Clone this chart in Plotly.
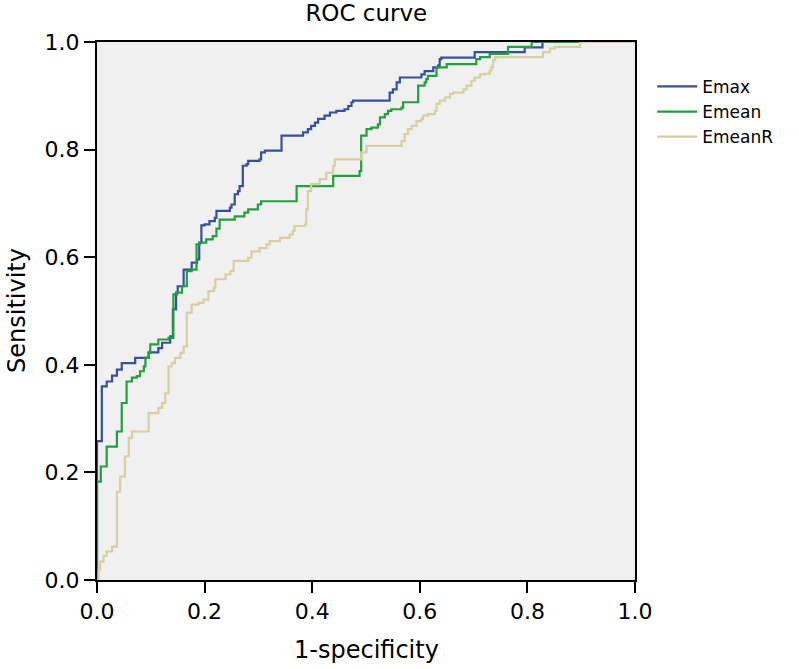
import plotly.graph_objects as go

# ---- data ----
emax_x = [0.000, 0.000, 0.009, 0.018, 0.028, 0.037, 0.046, 0.071, 0.096, 0.114,
          0.121, 0.136, 0.141, 0.147, 0.150, 0.161, 0.176, 0.186, 0.190, 0.194,
          0.200, 0.209, 0.219, 0.222, 0.247, 0.250, 0.256, 0.262, 0.265, 0.271,
          0.278, 0.281, 0.302, 0.305, 0.312, 0.343, 0.383, 0.392, 0.398, 0.405,
          0.411, 0.423, 0.433, 0.445, 0.460, 0.467, 0.473, 0.476, 0.544, 0.550,
          0.557, 0.563, 0.603, 0.609, 0.625, 0.634, 0.637, 0.640, 0.702, 0.795,
          0.828, 1.000]
emax_y = [0.000, 0.258, 0.360, 0.369, 0.380, 0.391, 0.403, 0.413, 0.423, 0.431,
          0.441, 0.453, 0.503, 0.534, 0.546, 0.577, 0.590, 0.596, 0.627, 0.659,
          0.661, 0.667, 0.673, 0.686, 0.692, 0.698, 0.717, 0.723, 0.732, 0.770,
          0.773, 0.779, 0.782, 0.795, 0.798, 0.826, 0.832, 0.838, 0.844, 0.850,
          0.857, 0.863, 0.869, 0.872, 0.875, 0.881, 0.888, 0.891, 0.906, 0.912,
          0.925, 0.934, 0.940, 0.946, 0.953, 0.956, 0.968, 0.971, 0.981, 0.990,
          1.000, 1.000]

emean_x = [0.000, 0.000, 0.007, 0.018, 0.037, 0.046, 0.055, 0.065, 0.074, 0.080,
           0.087, 0.090, 0.096, 0.099, 0.114, 0.133, 0.142, 0.149, 0.158, 0.167,
           0.176, 0.185, 0.191, 0.203, 0.215, 0.222, 0.228, 0.256, 0.274, 0.281,
           0.299, 0.305, 0.371, 0.439, 0.488, 0.491, 0.501, 0.510, 0.522, 0.526,
           0.535, 0.541, 0.547, 0.566, 0.569, 0.597, 0.609, 0.612, 0.615, 0.631,
           0.650, 0.705, 0.712, 0.730, 0.764, 0.808, 1.000]
emean_y = [0.000, 0.183, 0.211, 0.248, 0.276, 0.329, 0.369, 0.376, 0.379, 0.388,
           0.397, 0.413, 0.422, 0.438, 0.447, 0.450, 0.531, 0.534, 0.546, 0.574,
           0.577, 0.624, 0.627, 0.633, 0.639, 0.653, 0.670, 0.676, 0.683, 0.689,
           0.698, 0.704, 0.732, 0.751, 0.760, 0.826, 0.838, 0.841, 0.847, 0.860,
           0.866, 0.872, 0.875, 0.878, 0.888, 0.919, 0.925, 0.931, 0.937, 0.953,
           0.959, 0.968, 0.972, 0.978, 0.991, 1.000, 1.000]

emeanr_x = [0.000, 0.003, 0.006, 0.012, 0.018, 0.028, 0.037, 0.043, 0.052, 0.059,
            0.065, 0.096, 0.114, 0.121, 0.127, 0.133, 0.139, 0.145, 0.155, 0.161,
            0.167, 0.176, 0.189, 0.198, 0.207, 0.217, 0.220, 0.239, 0.248, 0.254,
            0.281, 0.287, 0.302, 0.315, 0.321, 0.340, 0.358, 0.364, 0.367, 0.386,
            0.389, 0.392, 0.398, 0.414, 0.426, 0.439, 0.442, 0.491, 0.501, 0.566,
            0.572, 0.578, 0.585, 0.594, 0.603, 0.606, 0.615, 0.628, 0.631, 0.637,
            0.647, 0.656, 0.662, 0.681, 0.687, 0.696, 0.702, 0.712, 0.721, 0.730,
            0.733, 0.736, 0.740, 0.829, 0.842, 0.851, 0.898, 1.000]
emeanr_y = [0.000, 0.019, 0.034, 0.045, 0.053, 0.062, 0.164, 0.192, 0.230, 0.264,
            0.276, 0.310, 0.320, 0.329, 0.347, 0.397, 0.403, 0.413, 0.422, 0.434,
            0.497, 0.512, 0.515, 0.521, 0.537, 0.543, 0.559, 0.568, 0.574, 0.593,
            0.599, 0.611, 0.617, 0.624, 0.630, 0.636, 0.642, 0.649, 0.658, 0.661,
            0.689, 0.723, 0.736, 0.745, 0.757, 0.770, 0.782, 0.795, 0.807, 0.816,
            0.829, 0.838, 0.844, 0.853, 0.857, 0.863, 0.866, 0.872, 0.885, 0.891,
            0.897, 0.903, 0.906, 0.912, 0.919, 0.928, 0.934, 0.940, 0.941, 0.947,
            0.953, 0.966, 0.972, 0.981, 0.988, 0.991, 1.000, 1.000]

tick_vals = [0.0, 0.2, 0.4, 0.6, 0.8, 1.0]
tick_text = ["0.0", "0.2", "0.4", "0.6", "0.8", "1.0"]

series = [
    ("Emax", emax_x, emax_y, "#3450A2"),
    ("Emean", emean_x, emean_y, "#22A03C"),
    ("EmeanR", emeanr_x, emeanr_y, "#D6CFA2"),
]

FONT = "DejaVu Sans"

fig = go.Figure()
for name, xs, ys, col in series:
    fig.add_trace(go.Scatter(
        x=xs, y=ys, name=name, mode="lines",
        line=dict(color=col, width=2.2, shape="hv"),
    ))

axis_common = dict(
    range=[0, 1], showgrid=False, zeroline=False, automargin=False,
    showline=True, linecolor="black", linewidth=2, mirror=True,
    ticks="outside", ticklen=11, tickwidth=2, tickcolor="black",
    tickvals=tick_vals, ticktext=tick_text,
    tickfont=dict(family=FONT, size=22, color="black"),
)

fig.update_layout(
    width=799, height=669,
    margin=dict(l=97, r=164, t=42, b=89),
    paper_bgcolor="white", plot_bgcolor="#F0F0F0",
    font=dict(family=FONT, color="black"),
    title=dict(text="ROC curve", x=0.4585, xanchor="center",
               y=1 - 13 / 669, yanchor="middle", yref="container",
               font=dict(family=FONT, size=23, color="black")),
    xaxis=axis_common,
    yaxis=axis_common,
    legend=dict(x=1.032, y=0.95, xanchor="left", yanchor="top",
                bgcolor="rgba(0,0,0,0)", borderwidth=0,
                font=dict(family=FONT, size=17, color="black"),
                itemwidth=40, tracegroupgap=0),
    showlegend=True,
    annotations=[
        dict(text="1-specificity", xref="paper", yref="paper",
             x=0.5, y=(580 - 650) / 538, xanchor="center", yanchor="middle",
             showarrow=False, font=dict(family=FONT, size=24, color="black")),
        dict(text="Sensitivity", xref="paper", yref="paper",
             x=(17 - 97) / 538, y=0.5, xanchor="center", yanchor="middle",
             textangle=-90, showarrow=False,
             font=dict(family=FONT, size=24, color="black")),
    ],
)

fig.write_html("out.html",
               config={"displayModeBar": False},
               post_script="document.body.style.margin='0';document.body.style.padding='0';")
